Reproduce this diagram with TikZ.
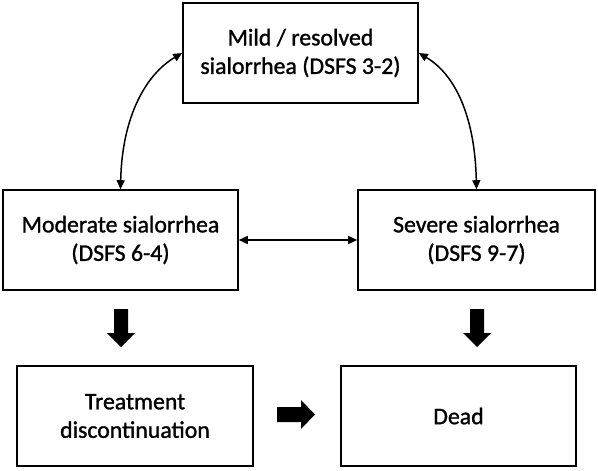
\documentclass[tikz,border=0pt]{standalone}
\usepackage{fontspec}
\setmainfont[FakeBold=1.2]{Carlito}
\usetikzlibrary{arrows.meta}
\begin{document}
\begin{tikzpicture}[x=1pt,y=-1pt,
  statebox/.style={draw=black,line width=1.6pt,minimum height=100pt,align=center,
    inner sep=2pt,font=\fontsize{23.8}{28.5}\selectfont},
  link/.style={line width=1.5pt,{Triangle[length=9pt,width=8pt]}-{Triangle[length=9pt,width=8pt]}},
  blockarrow/.style={fill=black,draw=none}]
\useasboundingbox (0,0) rectangle (598,471);
\node[statebox,minimum width=235pt] (mild) at (300.5,53) {Mild / resolved\\sialorrhea (DSFS 3-2)};
\node[statebox,minimum width=235pt] (mod) at (120.5,240) {Moderate sialorrhea\\(DSFS 6-4)};
\node[statebox,minimum width=237pt] (sev) at (476.5,240) {Severe sialorrhea\\(DSFS 9-7)};
\node[statebox,minimum width=236pt] (treat) at (135,416) {Treatment\\discontinuation};
\node[statebox,minimum width=235pt] (dead) at (458.5,416) {Dead};
\draw[link] (mod.north) .. controls (122,118) and (145,75) .. (mild.west);
\draw[link] (sev.north) .. controls (475,118) and (456,75) .. (mild.east);
\draw[link] (mod.east) -- (sev.west);
% block arrows
\coordinate (a1) at (121,309);
\coordinate (a2) at (477,309);
\coordinate (a3) at (277,414.5);
\fill[blockarrow] (a1) ++(-7,0) -- ++(14,0) -- ++(0,24) -- ++(7,0) -- ++(-14,14) -- ++(-14,-14) -- ++(7,0) -- cycle;
\fill[blockarrow] (a2) ++(-7,0) -- ++(14,0) -- ++(0,24) -- ++(7,0) -- ++(-14,14) -- ++(-14,-14) -- ++(7,0) -- cycle;
\fill[blockarrow] (a3) ++(0,-7.5) -- ++(24,0) -- ++(0,-7) -- ++(14,14.5) -- ++(-14,14.5) -- ++(0,-7) -- ++(-24,0) -- cycle;
\end{tikzpicture}
\end{document}
